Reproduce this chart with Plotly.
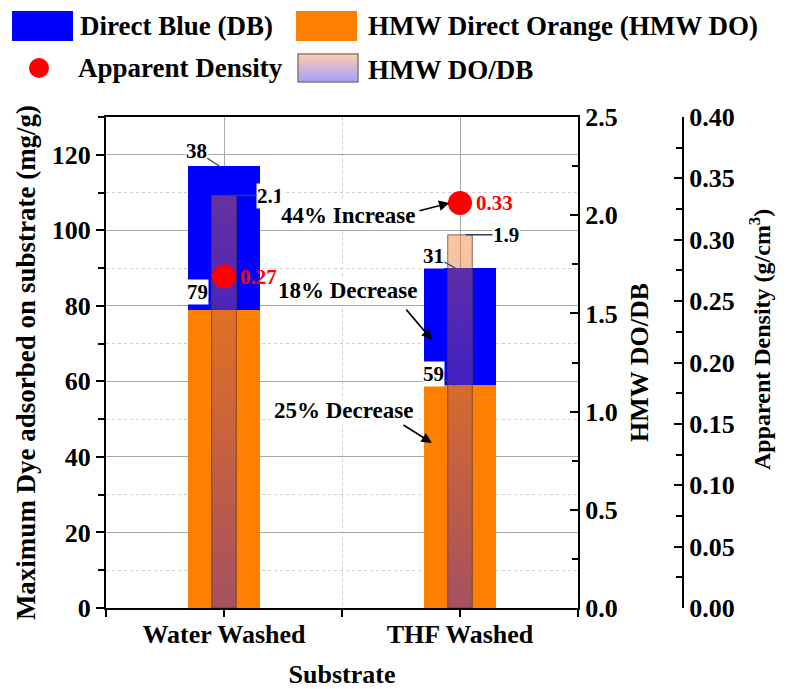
import plotly.graph_objects as go

# ---------------- data ----------------
categories = ["Water Washed", "THF Washed"]
do_values = [79, 59]            # HMW Direct Orange adsorbed (mg/g)
db_values = [38, 31]            # Direct Blue adsorbed (mg/g), stacked on DO
ratio_values = [2.1, 1.9]       # HMW DO/DB
density_values = [0.27, 0.33]   # Apparent density (g/cm3)
change_labels = ["44% Increase", "18% Decrease", "25% Decrease"]

# ---------------- geometry helpers ----------------
W, H = 791, 689
ML, MR, MT, MB = 106, 60, 117, 81
PW = W - ML - MR
PH = H - MT - MB


def px(x):
    return (x - ML) / PW


def py(y):
    return (H - MB - y) / PH


FONT = "Liberation Serif"


def fnt(size, color="black"):
    return dict(family=FONT, size=size, color=color, weight="bold")


xpos = list(range(len(categories)))
BAR_W = 0.305
RATIO_HW = 0.052

fig = go.Figure()

fig.add_trace(go.Bar(x=xpos, y=do_values, width=BAR_W, name="HMW Direct Orange (HMW DO)",
                     marker=dict(color="#FF8000", line=dict(width=0)), showlegend=False))
fig.add_trace(go.Bar(x=xpos, y=db_values, width=BAR_W, name="Direct Blue (DB)",
                     marker=dict(color="#0000FF", line=dict(width=0)), showlegend=False))

for i, r in enumerate(ratio_values):
    fig.add_trace(go.Scatter(
        x=[i - RATIO_HW, i + RATIO_HW, i + RATIO_HW, i - RATIO_HW, i - RATIO_HW],
        y=[0, 0, r, r, 0], yaxis="y2", mode="lines", fill="toself",
        fillgradient=dict(type="vertical",
                          colorscale=[[0, "rgba(30,10,237,0.4)"], [1, "rgba(245,120,25,0.42)"]]),
        line=dict(color="rgba(90,60,60,0.75)", width=1),
        name="HMW DO/DB", showlegend=False, hoverinfo="skip"))

fig.add_trace(go.Scatter(x=xpos, y=density_values, yaxis="y3", mode="markers",
                         marker=dict(color="#FF0000", size=24), name="Apparent Density",
                         showlegend=False))

# pixel offsets of the value labels (label centre relative to the leader tip)
do_label_off = [(-22, -18), (-22, -11)]
db_label_off = [(-23, -15), (-22, -12)]

ann = []
for i in xpos:
    ann.append(dict(x=i - 0.02, y=do_values[i], xref="x", yref="y", text=str(do_values[i]),
                    showarrow=True, arrowhead=0, arrowwidth=1.2,
                    ax=do_label_off[i][0], ay=do_label_off[i][1],
                    bgcolor="white", font=fnt(21), borderpad=0))
    ann.append(dict(x=i - 0.02, y=do_values[i] + db_values[i], xref="x", yref="y",
                    text=str(db_values[i]), showarrow=True, arrowhead=0, arrowwidth=1.2,
                    ax=db_label_off[i][0], ay=db_label_off[i][1],
                    bgcolor="white", font=fnt(21), borderpad=0))
    ann.append(dict(x=i + 0.025, y=ratio_values[i], xref="x", yref="y2",
                    text=f"{ratio_values[i]:.1f}", showarrow=True, arrowhead=0, arrowwidth=1.5,
                    ax=40, ay=0, bgcolor="white", font=fnt(21), borderpad=0))
    ann.append(dict(x=i, y=density_values[i], xref="x", yref="y3",
                    text=f"{density_values[i]:.2f}", showarrow=False, xshift=34,
                    font=fnt(21, "#FF0000")))

# change annotations
text_pos = [(0.525, 103.8), (0.525, 84.0), (0.505, 52.3)]
arrows = [((0.822, 105.1), (0.955, 107.2)),
          ((0.767, 79.4), (0.881, 71.0)),
          ((0.754, 48.7), (0.881, 43.7))]
for lab, (tx, ty), ((ax_, ay_), (hx, hy)) in zip(change_labels, text_pos, arrows):
    ann.append(dict(x=tx, y=ty, xref="x", yref="y", text=lab, showarrow=False,
                    bgcolor="white", font=fnt(23)))
    ann.append(dict(x=hx, y=hy, xref="x", yref="y", ax=ax_, ay=ay_, axref="x", ayref="y",
                    text="", showarrow=True, arrowhead=2, arrowsize=1.3, arrowwidth=1.6,
                    arrowcolor="black"))

# right-most axis title (placed as annotation to match the reference position)
ann.append(dict(x=px(777), y=py(340), xref="paper", yref="paper",
                text="Apparent Density (g/cm<sup>3</sup>)", textangle=-90, showarrow=False,
                font=fnt(24)))

# custom legend
shapes = []
shapes.append(dict(type="rect", xref="paper", yref="paper", x0=px(12), x1=px(73),
                   y0=py(41), y1=py(11), fillcolor="#0000FF", line=dict(width=0)))
shapes.append(dict(type="rect", xref="paper", yref="paper", x0=px(296), x1=px(357),
                   y0=py(41), y1=py(11), fillcolor="#FF8000", line=dict(width=0)))
shapes.append(dict(type="circle", xref="paper", yref="paper", x0=px(29), x1=px(49),
                   y0=py(78), y1=py(58), fillcolor="#FF0000", line=dict(width=0)))
n = 14
top_c = (252, 204, 170)
bot_c = (168, 160, 250)
for k in range(n):
    t = k / (n - 1)
    c = tuple(int(round(bot_c[j] + (top_c[j] - bot_c[j]) * t)) for j in range(3))
    y_bot = 82 - k * 28 / n
    y_top = 82 - (k + 1) * 28 / n
    shapes.append(dict(type="rect", xref="paper", yref="paper", x0=px(298), x1=px(358),
                       y0=py(y_bot), y1=py(y_top), fillcolor=f"rgb{c}", line=dict(width=0)))
shapes.append(dict(type="rect", xref="paper", yref="paper", x0=px(298), x1=px(358),
                   y0=py(82), y1=py(54), fillcolor="rgba(0,0,0,0)",
                   line=dict(color="#8a7a70", width=1.5)))

legend_texts = [("Direct Blue (DB)", 78, 26), ("HMW Direct Orange (HMW DO)", 366, 26),
                ("Apparent Density", 76, 68), ("HMW DO/DB", 366, 70)]
for t, x, y in legend_texts:
    ann.append(dict(x=px(x), y=py(y), xref="paper", yref="paper", text=t, showarrow=False,
                    xanchor="left", yanchor="middle", font=fnt(27)))

grid_major = "#a8a8a8"
grid_minor = "#cfcfcf"

fig.update_layout(
    width=W, height=H,
    margin=dict(l=ML, r=MR, t=MT, b=MB),
    paper_bgcolor="white", plot_bgcolor="white",
    barmode="stack", bargap=0,
    showlegend=False,
    font=fnt(26),
    annotations=ann,
    shapes=shapes,
    xaxis=dict(domain=[0, px(578)], range=[-0.5, 1.5], tickvals=xpos, ticktext=categories,
               ticks="outside", ticklen=7, tickwidth=2, tickcolor="black",
               showline=True, linewidth=2, linecolor="black", mirror=True,
               showgrid=True, gridcolor=grid_major, gridwidth=1, zeroline=False,
               minor=dict(dtick=0.5, tick0=-0.5, ticks="outside", ticklen=7, tickwidth=2,
                          tickcolor="black", showgrid=True, gridcolor=grid_minor, griddash="dot"),
               tickfont=fnt(26), automargin=False, ticklabelstandoff=-5,
               title=dict(text="Substrate", font=fnt(26), standoff=22)),
    yaxis=dict(range=[0, 130], dtick=20, ticks="outside", ticklen=8, tickwidth=2,
               tickcolor="black", showline=True, linewidth=2, linecolor="black",
               showgrid=True, gridcolor=grid_major, gridwidth=1, zeroline=False,
               minor=dict(dtick=10, ticks="outside", ticklen=6, tickwidth=2, tickcolor="black",
                          showgrid=True, gridcolor=grid_minor, griddash="dot"),
               tickfont=fnt(26), automargin=False,
               title=dict(text="Maximum Dye adsorbed on substrate (mg/g)", font=fnt(27),
                          standoff=8)),
    yaxis2=dict(overlaying="y", side="right", anchor="x", range=[0, 2.5], dtick=0.5,
                tickformat=".1f", ticks="inside", ticklen=8, tickwidth=2, tickcolor="black",
                showline=True, linewidth=2, linecolor="black", showgrid=False, zeroline=False,
                minor=dict(dtick=0.25, ticks="inside", ticklen=6, tickwidth=2, tickcolor="black"),
                tickfont=fnt(26), automargin=False,
                title=dict(text="HMW DO/DB", font=fnt(26), standoff=13)),
    yaxis3=dict(overlaying="y", side="right", anchor="free", position=px(683),
                range=[0, 0.40], dtick=0.05, tickformat=".2f", ticks="inside", ticklen=8,
                tickwidth=2, tickcolor="black", showline=True, linewidth=2, linecolor="black",
                showgrid=False, zeroline=False,
                minor=dict(dtick=0.025, ticks="inside", ticklen=6, tickwidth=2, tickcolor="black"),
                tickfont=fnt(26), automargin=False),
)

fig.write_html("out.html")
